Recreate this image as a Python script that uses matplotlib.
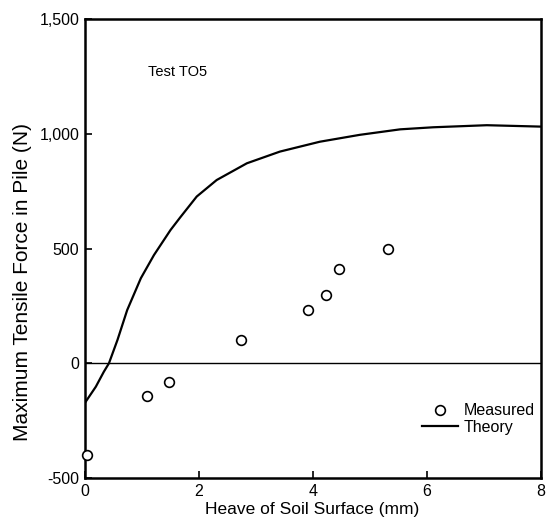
"""Test TO5: maximum tensile force in pile vs heave of soil surface."""
import matplotlib
matplotlib.use("Agg")
import matplotlib.pyplot as plt

plt.rcParams["font.family"] = ["Liberation Sans", "DejaVu Sans"]

# measured points (heave mm, force N)
meas_heave = [0.03, 1.08, 1.48, 2.74, 3.91, 4.23, 4.46, 5.32]
meas_force = [-400, -142, -81, 100, 234, 297, 410, 499]

# theory curve
theory_heave = [0.0, 0.19, 0.33, 0.42, 0.57, 0.74, 0.98, 1.21, 1.50, 1.67,
                1.96, 2.31, 2.84, 3.42, 4.12, 4.82, 5.53, 6.11, 7.05, 7.98]
theory_force = [-172, -102, -37, 0, 102, 232, 371, 472, 581, 636,
                727, 799, 872, 923, 966, 996, 1020, 1029, 1038, 1032]

fig = plt.figure(figsize=(5.47, 5.20), dpi=100)
ax = fig.add_axes([0.1554, 0.0808, 0.8336, 0.8822])

ax.axhline(0, color="black", lw=1.0)
ax.plot(meas_heave, meas_force, "o", ms=7, mfc="white", mec="black", mew=1.2,
        clip_on=False, label="Measured", zorder=3)
ax.plot(theory_heave, theory_force, "-", color="black", lw=1.6, label="Theory")

ax.set_xlim(0, 8)
ax.set_ylim(-500, 1500)
ax.set_xticks([0, 2, 4, 6, 8])
ax.set_yticks([-500, 0, 500, 1000, 1500])
ax.set_yticklabels(["-500", "0", "500", "1,000", "1,500"])
ax.tick_params(direction="in", length=5, width=1.2, labelsize=11.5, pad=4)
for s in ax.spines.values():
    s.set_linewidth(1.8)

ax.set_xlabel("Heave of Soil Surface (mm)", fontsize=12.5)
ax.xaxis.set_label_coords(0.497, -0.052)
ax.set_ylabel("Maximum Tensile Force in Pile (N)", fontsize=15)
ax.yaxis.set_label_coords(-0.116, 0.427)
ax.text(1.1, 1270, "Test TO5", fontsize=10.5, va="center")

ax.legend(loc="lower right", bbox_to_anchor=(0.987, 0.094), frameon=False,
          fontsize=11.5, handlelength=2.2, handletextpad=0.4,
          borderaxespad=0, borderpad=0, labelspacing=0.1)

fig.savefig("out.png", dpi=100)
